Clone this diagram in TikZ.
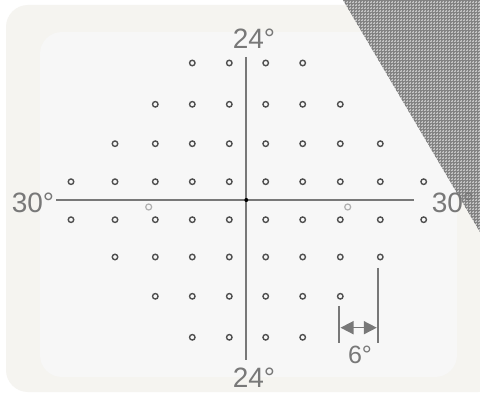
\documentclass[tikz,border=0pt]{standalone}
\usepackage{fontspec}
\setmainfont{Liberation Sans}
\usetikzlibrary{arrows.meta,patterns}
\definecolor{outerbg}{RGB}{245,244,240}
\definecolor{innerbg}{RGB}{247,247,247}
\definecolor{axisgray}{RGB}{120,120,120}
\definecolor{dotgray}{RGB}{80,80,80}
\definecolor{blindgray}{RGB}{175,175,175}
\definecolor{hatchbase}{RGB}{200,200,200}
\definecolor{hatchgray}{RGB}{130,130,130}
\tikzset{
  stim/.style={circle,draw=dotgray,line width=1.4pt,inner sep=0pt,minimum size=5.5pt},
  blind/.style={circle,draw=blindgray,line width=1.2pt,inner sep=0pt,minimum size=6pt},
  axisline/.style={draw=axisgray,line width=2pt},
  biglabel/.style={text=axisgray,font=\fontsize{28}{30}\selectfont,inner sep=0pt},
  smalllabel/.style={text=axisgray,font=\fontsize{25}{27}\selectfont,inner sep=0pt},
}
\begin{document}
\begin{tikzpicture}[x=1pt,y=-1pt]
\useasboundingbox (0,0) rectangle (480,393);
% backgrounds
\fill[white] (0,0) rectangle (480,393);
\fill[outerbg,rounded corners=22pt] (6,5) rectangle (500,392);
\fill[innerbg,rounded corners=22pt] (40,32) rectangle (457,377);
% hatched corner
\fill[hatchbase] (343,0) -- (480,0) -- (480,232) -- cycle;
\fill[pattern=crosshatch dots,pattern color=hatchgray] (343,0) -- (480,0) -- (480,232) -- cycle;
\fill[pattern=grid,pattern color=hatchgray] (343,0) -- (480,0) -- (480,232) -- cycle;
% axes
\coordinate (vt) at (246.3,57);
\coordinate (vb) at (246.3,360);
\coordinate (hl) at (56,200);
\coordinate (hr) at (414,200);
\draw[axisline] (vt) -- (vb);
\draw[axisline] (hl) -- (hr);
\node[circle,fill=black,inner sep=0pt,minimum size=4pt] (center) at (246.3,200) {};
% stimulus points
\foreach \r/\y/\a/\b in {1/63/4/7,2/104.3/3/8,3/143.7/2/9,4/181.7/1/10,5/219.7/1/10,6/257/2/9,7/296.3/3/8,8/337.3/4/7}{
  \foreach \c/\x in {1/71,2/115,3/155.3,4/192.3,5/229.3,6/265.7,7/302.7,8/340.3,9/380.3,10/423.7}{
    \ifnum\c<\a\relax\else\ifnum\c>\b\relax\else
      \node[stim] (p\r-\c) at (\x,\y) {};
    \fi\fi
  }
}
% blind spots
\node[blind] (bsl) at (148.7,207) {};
\node[blind] (bsr) at (347.7,207) {};
% labels
\node[biglabel] (top) at (254,39) {24°};
\node[biglabel] (bottom) at (254,378) {24°};
\node[biglabel] (left) at (33,203) {30°};
\node[biglabel] (right) at (453,203) {30°};
% 6 degree scale
\coordinate (s1t) at (339,306);
\coordinate (s1b) at (339,343);
\coordinate (s2t) at (378.3,268);
\coordinate (s2b) at (378.3,343);
\draw[draw=axisgray,line width=2.2pt] (s1t) -- (s1b);
\draw[draw=axisgray,line width=2.2pt] (s2t) -- (s2b);
\coordinate (al) at (340.5,327.7);
\coordinate (ar) at (376.8,327.7);
\draw[draw=axisgray,line width=1.6pt,{Triangle[length=13pt,width=13pt]}-{Triangle[length=13pt,width=13pt]}] (al) -- (ar);
\node[smalllabel] (six) at (360,355) {6°};
\end{tikzpicture}
\end{document}
